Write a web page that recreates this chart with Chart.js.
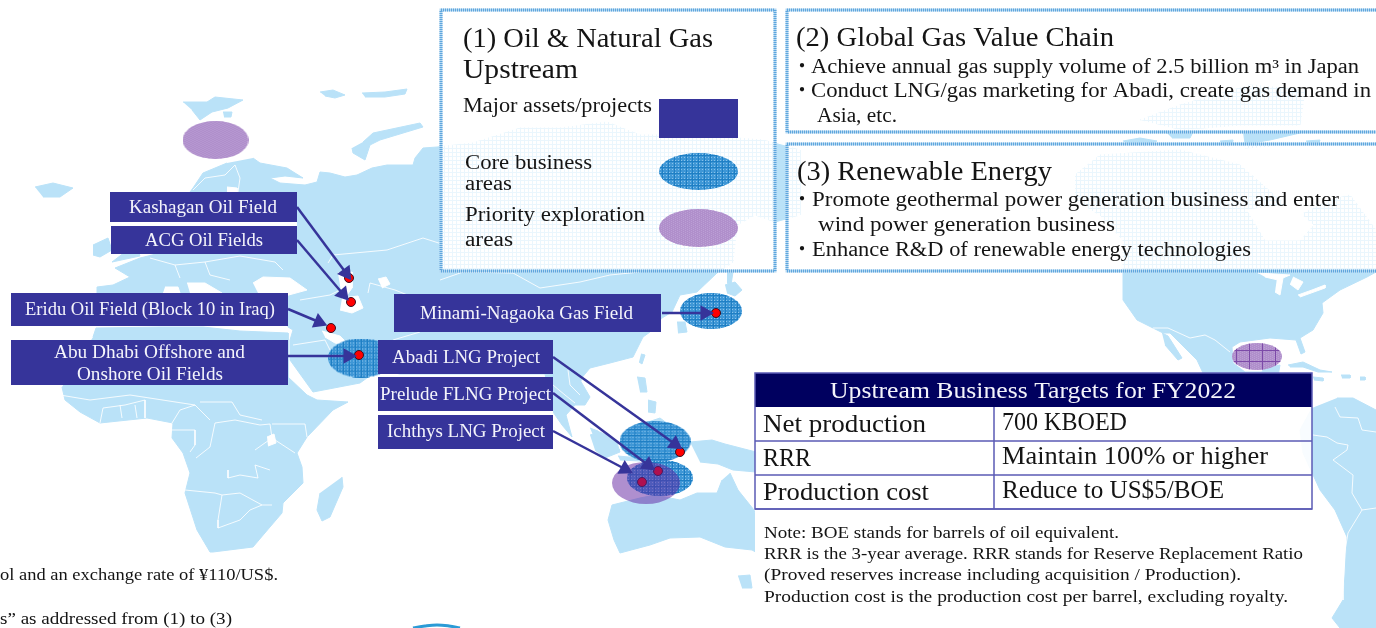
<!DOCTYPE html>
<html>
<head>
<meta charset="utf-8">
<title>Upstream business map</title>
<script src="https://cdn.jsdelivr.net/npm/chart.js@4"></script>
<style>
    html, body { margin: 0; padding: 0; background: #fff; overflow: hidden; }
    canvas { display: block; }
</style>
</head>
<body>
<canvas id="mapChart" width="1376" height="628"></canvas>
<script>
// project locations
const projectDots = [[349, 278], [351, 302], [331, 328], [359, 355], [716, 313], [680, 452], [658, 471], [642, 482]];
const coreAreas = [[361, 358], [711, 311], [655, 441.5], [660, 478]];
const priorityAreas = [[215.5, 140]];
const priorityOverlapArea = [[646, 483]];
const priorityGridArea = [[1257, 356.5]];
const legendCoreArea = [[698.5, 171.5]];
const legendPriorityArea = [[698.5, 228]];
const bottomArc = [[413, 628], [425, 626], [437, 625], [449, 626], [460, 628]];

// arrows: from the label to the project
const arrowLines = [
    [[297, 207], [346, 273]],
    [[297, 240], [343, 294]],
    [[288, 309], [319, 322]],
    [[288, 356], [348, 356]],
    [[662, 313], [705, 313]],
    [[553, 357], [675, 444]],
    [[553, 393], [648, 465]],
    [[553, 431], [625, 469]]
];

// land
const eurasia = [[253, 158], [260, 163], [287, 168], [303, 178], [285, 176], [270, 178], [280, 183], [305, 185], [317, 182], [320, 172], [330, 173], [345, 177], [357, 175], [372, 168], [387, 165], [413, 165], [415, 158], [423, 148], [437, 147], [473, 143], [520, 128], [560, 128], [607, 122], [640, 135], [700, 135], [763, 140], [800, 150], [800, 215], [775, 222], [755, 215], [737, 225], [733, 262], [717, 273], [697, 292], [680, 295], [672, 312], [662, 318], [650, 332], [643, 337], [633, 357], [610, 363], [590, 368], [580, 380], [590, 397], [585, 405], [575, 405], [566, 415], [572, 437], [562, 425], [553, 412], [545, 374], [400, 374], [378, 370], [360, 383], [313, 392], [290, 360], [290, 340], [293, 330], [288, 327], [288, 305], [100, 305], [97, 300], [97, 287], [113, 285], [130, 277], [115, 268], [140, 258], [160, 253], [165, 235], [172, 215], [190, 192], [193, 188], [203, 173], [227, 163]];
const africa = [[93, 337], [96, 328], [160, 327], [203, 327], [240, 331], [288, 333], [288, 377], [307, 395], [317, 400], [348, 402], [333, 410], [307, 437], [297, 453], [302, 467], [303, 483], [283, 503], [282, 513], [270, 527], [253, 547], [213, 552], [210, 552], [197, 530], [185, 493], [190, 473], [183, 453], [172, 438], [173, 423], [147, 418], [100, 423], [80, 412], [65, 400], [62, 387]];
const madagascar = [[342, 477], [343, 487], [330, 517], [322, 521], [317, 510], [320, 493]];
const iceland = [[35, 187], [53, 183], [73, 188], [60, 197], [43, 197]];
const ireland = [[93, 245], [108, 238], [112, 250], [100, 257], [93, 255]];
const britain = [[111, 226], [130, 226], [140, 256], [112, 262], [125, 252]];
const svalbard = [[183, 102], [207, 102], [215, 97], [243, 100], [228, 108], [212, 112], [200, 120], [192, 110]];
const svalbardSmall = [[223, 112], [232, 112], [231, 117], [224, 117]];
const novayaZemlya = [[363, 142], [373, 133], [420, 123], [423, 127], [380, 140], [370, 145], [365, 160], [353, 153], [352, 148]];
const franzJosefWest = [[320, 92], [333, 90], [345, 95], [335, 98], [325, 96]];
const franzJosefEast = [[362, 93], [385, 92], [407, 89], [405, 94], [385, 97], [365, 97]];
const australia = [[730, 473], [738, 490], [754, 510], [770, 560], [752, 550], [725, 547], [700, 537], [670, 538], [650, 545], [620, 553], [614, 540], [608, 520], [612, 505], [640, 498], [655, 495], [680, 500], [697, 493], [717, 493], [722, 480]];
const tasmania = [[738, 576], [750, 575], [752, 588], [742, 588]];
const newGuinea = [[690, 442], [712, 440], [725, 444], [756, 452], [756, 472], [733, 470], [718, 464], [700, 462]];
const borneo = [[590, 435], [600, 432], [616, 440], [620, 452], [605, 458], [595, 450]];
const sumatra = [[590, 428], [598, 431], [620, 450], [612, 452], [596, 442]];
const java = [[618, 456], [640, 458], [640, 461], [620, 460]];
const sulawesi = [[648, 422], [660, 418], [668, 424], [655, 428]];
const luzon = [[637, 377], [645, 378], [647, 392], [640, 392]];
const mindanao = [[648, 400], [656, 402], [655, 413], [648, 412]];
const taiwan = [[641, 354], [645, 355], [642, 364], [639, 362]];
const hainan = [[576, 376], [582, 376], [581, 381], [576, 381]];
const hokkaido = [[725, 285], [735, 282], [742, 290], [735, 296], [727, 293]];
const sakhalin = [[727, 270], [733, 272], [731, 285], [727, 283]];
const kyushu = [[677, 322], [685, 322], [687, 332], [678, 333]];
const northAmerica = [[1075, 175], [1100, 155], [1180, 150], [1240, 165], [1280, 200], [1300, 215], [1330, 200], [1350, 195], [1376, 230], [1376, 272], [1367, 277], [1340, 290], [1322, 303], [1323, 313], [1313, 330], [1300, 338], [1305, 352], [1301, 354], [1296, 340], [1270, 338], [1240, 342], [1232, 347], [1233, 363], [1245, 372], [1262, 372], [1264, 368], [1280, 365], [1278, 376], [1260, 392], [1240, 380], [1203, 373], [1197, 360], [1170, 333], [1163, 333], [1153, 328], [1137, 320], [1123, 300], [1123, 240], [1100, 215], [1075, 200]];
const baja = [[1162, 333], [1168, 336], [1182, 358], [1178, 360], [1165, 345]];
const arcticIsles = [[1140, 120], [1180, 105], [1250, 85], [1305, 90], [1300, 125], [1240, 125], [1180, 130]];
const islandA = [[1123, 141], [1140, 138], [1157, 141], [1145, 146], [1128, 145]];
const islandB = [[1167, 133], [1193, 132], [1190, 138], [1172, 138]];
const islandC = [[1220, 141], [1233, 140], [1232, 146], [1222, 146]];
const islandD = [[1243, 132], [1300, 133], [1270, 140], [1240, 145], [1270, 146], [1245, 148]];
const islandE = [[1306, 141], [1320, 140], [1318, 146], [1308, 145]];
const cuba = [[1288, 365], [1303, 362], [1320, 370], [1332, 372], [1318, 372], [1303, 367], [1290, 367]];
const hispaniola = [[1313, 377], [1323, 378], [1323, 381], [1314, 380]];
const jamaica = [[1341, 375], [1350, 375], [1350, 378], [1342, 378]];
const puertoRico = [[1360, 377], [1365, 377], [1365, 380], [1360, 380]];
const southAmerica = [[1312, 408], [1300, 430], [1303, 453], [1320, 490], [1335, 510], [1347, 537], [1345, 575], [1343, 600], [1332, 618], [1340, 628], [1376, 628], [1376, 410], [1353, 398], [1337, 398]];
const landShapes = [eurasia, africa, madagascar, iceland, ireland, britain, svalbard, svalbardSmall, novayaZemlya, franzJosefWest, franzJosefEast, australia, tasmania, newGuinea, borneo, sumatra, java, sulawesi, luzon, mindanao, taiwan, hainan, hokkaido, sakhalin, kyushu, northAmerica, baja, arcticIsles, islandA, islandB, islandC, islandD, islandE, cuba, hispaniola, jamaica, puertoRico, southAmerica];

// seas and lakes cut out of the land
const blackSea = [[253, 283], [263, 277], [290, 278], [307, 290], [285, 296], [258, 293]];
const adriatic = [[187, 283], [205, 283], [222, 293], [190, 293]];
const gulfOfLion = [[165, 287], [178, 287], [180, 293], [163, 293]];
const baltic = [[227, 187], [237, 188], [237, 192], [227, 192]];
const caspianNorth = [[338, 273], [352, 272], [352, 288], [345, 298], [342, 298]];
const caspianSouth = [[342, 298], [358, 296], [363, 308], [352, 313], [340, 310]];
const aral = [[378, 279], [386, 277], [390, 284], [382, 288]];
const persianGulf = [[322, 331], [340, 336], [350, 346], [335, 343], [325, 337]];
const victoria = [[267, 437], [274, 434], [276, 443], [268, 446]];
const hudsonBay = [[1247, 210], [1290, 205], [1313, 225], [1300, 240], [1265, 240]];
const superior = [[1258, 273], [1290, 275], [1278, 280], [1265, 277]];
const michigan = [[1277, 278], [1283, 278], [1280, 295], [1275, 292]];
const huron = [[1293, 277], [1303, 282], [1298, 290], [1290, 284]];
const erie = [[1298, 295], [1312, 290], [1325, 285], [1325, 288], [1300, 297]];
const waterShapes = [blackSea, adriatic, gulfOfLion, baltic, caspianNorth, caspianSouth, aral, persianGulf, victoria, hudsonBay, superior, michigan, huron, erie];

// country borders
const borderLines = [
    [[185, 490], [215, 493], [222, 495], [240, 493], [262, 505], [272, 505]],
    [[222, 495], [218, 520], [218, 528], [240, 520], [250, 510], [262, 505]],
    [[228, 470], [228, 478], [240, 475], [258, 478], [255, 465], [270, 470]],
    [[255, 450], [262, 445], [272, 438], [295, 453]],
    [[196, 458], [210, 447], [215, 423], [235, 420], [260, 425], [270, 424], [272, 438]],
    [[172, 430], [195, 430], [195, 445], [190, 452]],
    [[272, 424], [305, 424], [307, 437]],
    [[172, 423], [180, 410], [195, 405], [210, 420]],
    [[200, 402], [232, 402], [240, 415], [262, 420]],
    [[100, 423], [103, 408], [125, 405], [145, 400], [145, 418]],
    [[120, 405], [122, 418]],
    [[135, 405], [137, 418]],
    [[60, 395], [90, 400], [130, 395], [195, 405]],
    [[193, 190], [205, 178], [225, 175], [235, 165]],
    [[235, 165], [240, 178], [238, 192]],
    [[150, 258], [175, 265], [205, 262], [240, 256], [275, 262], [283, 270]],
    [[175, 265], [180, 278]],
    [[205, 262], [210, 275], [230, 280]],
    [[328, 263], [333, 255], [387, 250], [423, 238], [445, 245]],
    [[368, 293], [370, 283], [395, 290], [420, 300]],
    [[300, 300], [330, 295], [340, 290]],
    [[440, 280], [463, 272], [513, 273], [540, 288], [580, 282], [610, 275], [640, 272]],
    [[393, 340], [420, 332]],
    [[568, 370], [570, 385], [580, 395]],
    [[553, 385], [565, 395], [575, 403]],
    [[293, 345], [325, 340], [330, 350]],
    [[1153, 328], [1168, 328], [1190, 338], [1205, 335], [1215, 340], [1230, 352]],
    [[1335, 407], [1340, 417], [1358, 418], [1362, 430], [1376, 432]],
    [[1313, 435], [1327, 437], [1337, 443], [1348, 445], [1347, 450], [1333, 460], [1353, 475], [1352, 493], [1362, 510], [1376, 508]],
    [[1362, 510], [1348, 533], [1343, 563], [1343, 600]]
];

// texts: string, left edge, baseline, font size, right edge
const panelTexts = [
    ['(1) Oil & Natural Gas', 463, 47, 27, 713],
    ['Upstream', 463, 78, 27, 578],
    ['Major assets/projects', 463, 112, 20, 652],
    ['Core business', 465, 169, 20, 592],
    ['areas', 465, 190, 20, 512],
    ['Priority exploration', 465, 221, 20, 645],
    ['areas', 465, 246, 20, 513],
    ['(2) Global Gas Value Chain', 796, 46, 27, 1114],
    ['Achieve annual gas supply volume of 2.5 billion m³ in Japan', 811, 73, 20, 1359],
    ['Conduct LNG/gas marketing for Abadi, create gas demand in', 811, 97, 20, 1371],
    ['Asia, etc.', 817, 122, 20, 897],
    ['(3) Renewable Energy', 797, 180, 27, 1052],
    ['Promote geothermal power generation business and enter', 812, 206, 20, 1339],
    ['wind power generation business', 818, 231, 20, 1115],
    ['Enhance R&D of renewable energy technologies', 812, 256, 20, 1251],
    ['Net production', 763, 432, 25, 926],
    ['RRR', 763, 466, 25, 811],
    ['Production cost', 763, 500, 25, 929],
    ['700 KBOED', 1002, 430, 25, 1127],
    ['Maintain 100% or higher', 1002, 464, 25, 1268],
    ['Reduce to US$5/BOE', 1002, 498, 25, 1224],
    ['Note: BOE stands for barrels of oil equivalent.', 764, 538, 16.5, 1119],
    ['RRR is the 3-year average. RRR stands for Reserve Replacement Ratio', 764, 559, 16.5, 1303],
    ['(Proved reserves increase including acquisition / Production).', 764, 580, 16.5, 1241],
    ['Production cost is the production cost per barrel, excluding royalty.', 764, 602, 16.5, 1288],
    ['ol and an exchange rate of ¥110/US$.', 0, 580, 16.5, 278],
    ['s” as addressed from (1) to (3)', 0, 624, 16.5, 232]
];
const labelTexts = [
    ['Kashagan Oil Field', 129, 213, 18, 277],
    ['ACG Oil Fields', 145, 246, 18, 263],
    ['Eridu Oil Field (Block 10 in Iraq)', 25, 315, 18, 275],
    ['Abu Dhabi Offshore and', 54, 358, 18, 245],
    ['Onshore Oil Fields', 77, 380, 18, 223],
    ['Minami-Nagaoka Gas Field', 420, 319, 18, 633],
    ['Abadi LNG Project', 392, 363, 18, 540],
    ['Prelude FLNG Project', 380, 400, 18, 551],
    ['Ichthys LNG Project', 387, 437, 18, 545],
    ['Upstream Business Targets for FY2022', 830, 398, 23, 1236]
];
const bulletMarks = [[792, 73], [792, 97], [792, 206], [792, 256]];

// layout of the flat boxes: x, y, width, height
const labelBoxes = [[110, 192, 187, 30], [111, 226, 186, 28], [11, 293, 277, 33], [11, 340, 277, 45], [394, 294, 267, 38], [378, 340, 175, 34], [378, 377, 175, 34], [378, 415, 175, 34], [659, 99, 79, 39]];
const whiteGaps = [[110, 222, 187, 4], [378, 411, 175, 4]];
const panelBoxes = [[441, 10, 334, 261], [787, 10, 600, 122], [787, 144, 600, 127]];
const noteBox = [755, 510, 557, 98];
const tableBox = { left: 755, top: 373, right: 1312, headBottom: 407, rowLines: [441, 475, 509], split: 994 };

const landColor = '#bae2f8';
const boxColor = '#36349a';

const toXY = pts => pts.map(p => ({ x: p[0], y: p[1] }));

function makeCanvas(w, h) {
    const c = document.createElement('canvas');
    c.width = w;
    c.height = h;
    return c;
}

// hatched ellipse used as a point image
function makeEllipse(rx, ry, kind) {
    const c = makeCanvas(Math.ceil(rx * 2), Math.ceil(ry * 2));
    const g = c.getContext('2d');
    g.beginPath();
    g.ellipse(c.width / 2, c.height / 2, rx, ry, 0, 0, Math.PI * 2);
    g.clip();
    if (kind === 'core') {
        g.fillStyle = '#3f97d6';
        g.fillRect(0, 0, c.width, c.height);
        g.fillStyle = '#88c2ea';
        for (let x = 1; x < c.width; x += 3) {
            for (let y = 1; y < c.height; y += 3) {
                g.fillRect(x, y, 1, 1);
            }
        }
        g.fillStyle = '#1f7fc4';
        for (let y = 2; y < c.height; y += 6) g.fillRect(0, y, c.width, 1);
        for (let x = 3; x < c.width; x += 6) g.fillRect(x, 0, 1, c.height);
    } else if (kind === 'veil') {
        // see-through purple, darkens what lies under it
        g.fillStyle = 'rgba(96,32,160,0.5)';
        g.fillRect(0, 0, c.width, c.height);
    } else {
        g.fillStyle = '#b08fcb';
        g.fillRect(0, 0, c.width, c.height);
        g.fillStyle = '#bb9fd5';
        for (let x = 0; x < c.width; x += 2) {
            for (let y = x % 4 === 0 ? 0 : 1; y < c.height; y += 2) {
                g.fillRect(x, y, 1, 1);
            }
        }
        if (kind === 'grid') {
            g.fillStyle = '#7c4aa8';
            for (let y = 7; y < c.height; y += 11) g.fillRect(0, y, c.width, 1);
            for (let x = 4; x < c.width; x += 13) g.fillRect(x, 0, 1, c.height);
        }
    }
    return c;
}

// see-through mesh of the text panels
function panelPattern(ctx) {
    const c = makeCanvas(4, 4);
    const g = c.getContext('2d');
    g.fillStyle = 'rgba(255,255,255,0.7)';
    g.fillRect(0, 0, 4, 4);
    g.fillStyle = '#fff';
    g.fillRect(1, 1, 3, 3);
    return ctx.createPattern(c, 'repeat');
}

function drawFitted(ctx, t, color) {
    ctx.save();
    ctx.font = t[3] + 'px "Liberation Serif"';
    ctx.textBaseline = 'alphabetic';
    ctx.textAlign = 'left';
    ctx.fillStyle = color;
    const w = ctx.measureText(t[0]).width;
    ctx.translate(t[1], t[2]);
    ctx.scale((t[4] - t[1]) / w, 1);
    ctx.fillText(t[0], 0, 0);
    ctx.restore();
}

const layerPlugin = {
    id: 'layerPlugin',
    beforeDatasetDraw(chart, args) {
        const ctx = chart.ctx;
        const label = chart.data.datasets[args.index].label;
        if (label === 'panelLayer') {
            ctx.save();
            ctx.fillStyle = panelPattern(ctx);
            panelBoxes.forEach(b => {
                ctx.fillRect(b[0], b[1], b[2], b[3]);
                ctx.lineWidth = 3;
                ctx.strokeStyle = '#b5d8f2';
                ctx.strokeRect(b[0], b[1], b[2], b[3]);
                ctx.strokeStyle = '#5ea6dd';
                ctx.setLineDash([1, 1]);
                ctx.strokeRect(b[0], b[1], b[2], b[3]);
                ctx.setLineDash([]);
            });
            ctx.restore();
        }
        if (label === 'boxLayer') {
            ctx.save();
            ctx.fillStyle = '#fff';
            whiteGaps.forEach(b => ctx.fillRect(b[0], b[1], b[2], b[3]));
            ctx.fillStyle = boxColor;
            labelBoxes.forEach(b => ctx.fillRect(b[0], b[1], b[2], b[3]));
            ctx.restore();
        }
    },
    afterDatasetsDraw(chart) {
        const ctx = chart.ctx;
        const t = tableBox;
        ctx.save();
        ctx.fillStyle = 'rgba(255,255,255,0.9)';
        ctx.fillRect(t.left, t.headBottom, t.right - t.left, t.rowLines[2] - t.headBottom);
        ctx.fillStyle = '#fff';
        ctx.fillRect(noteBox[0], noteBox[1], noteBox[2], noteBox[3]);
        ctx.fillStyle = '#00005f';
        ctx.fillRect(t.left, t.top, t.right - t.left, t.headBottom - t.top);
        ctx.strokeStyle = '#5b5bb5';
        ctx.lineWidth = 1.5;
        ctx.strokeRect(t.left, t.top, t.right - t.left, t.rowLines[2] - t.top);
        ctx.beginPath();
        t.rowLines.forEach(y => {
            ctx.moveTo(t.left, y);
            ctx.lineTo(t.right, y);
        });
        ctx.moveTo(t.split, t.headBottom);
        ctx.lineTo(t.split, t.rowLines[2]);
        ctx.stroke();
        ctx.restore();

        panelTexts.forEach(x => drawFitted(ctx, x, '#141414'));
        labelTexts.forEach(x => drawFitted(ctx, x, '#f4f4fb'));
        ctx.save();
        ctx.font = '20px "Noto Sans CJK JP"';
        ctx.fillStyle = '#141414';
        bulletMarks.forEach(b => ctx.fillText('・', b[0], b[1]));
        ctx.restore();
    }
};

// listed bottom layer first, reversed below because Chart.js paints the first dataset last
const layers = [];
landShapes.forEach(s => layers.push({ label: 'land', data: toXY(s), showLine: true, fill: 'shape', backgroundColor: landColor, borderColor: landColor, borderWidth: 1, pointRadius: 0 }));
waterShapes.forEach(s => layers.push({ label: 'water', data: toXY(s), showLine: true, fill: 'shape', backgroundColor: '#fff', borderColor: '#fff', borderWidth: 1, pointRadius: 0 }));
borderLines.forEach(s => layers.push({ label: 'border', data: toXY(s), showLine: true, fill: false, borderColor: 'rgba(255,255,255,0.85)', borderWidth: 1, pointRadius: 0 }));
layers.push({ label: 'arc', data: toXY(bottomArc), showLine: true, fill: false, tension: 0.4, borderColor: '#2b9bd6', borderWidth: 3, pointRadius: 0 });
layers.push({ label: 'panelLayer', data: [] });
layers.push({ label: 'Core business areas', data: toXY(coreAreas), pointRadius: 10, pointStyle: [makeEllipse(33, 19.5, 'core'), makeEllipse(31, 18, 'core'), makeEllipse(35.5, 20.5, 'core'), makeEllipse(33, 18, 'core')] });
layers.push({ label: 'Legend core', data: toXY(legendCoreArea), pointRadius: 10, pointStyle: makeEllipse(39.5, 18.5, 'core') });
layers.push({ label: 'Legend priority', data: toXY(legendPriorityArea), pointRadius: 10, pointStyle: makeEllipse(39.5, 19, 'plain') });
layers.push({ label: 'Projects', data: toXY(projectDots), pointRadius: 4.5, pointStyle: 'circle', backgroundColor: '#ff0000', borderColor: '#3a1020', borderWidth: 1 });
layers.push({ label: 'Priority exploration areas', data: toXY(priorityAreas), pointRadius: 10, pointStyle: makeEllipse(33, 19, 'plain') });
layers.push({ label: 'Priority overlap area', data: toXY(priorityOverlapArea), pointRadius: 10, pointStyle: makeEllipse(34, 21, 'veil') });
layers.push({ label: 'Priority grid area', data: toXY(priorityGridArea), pointRadius: 10, pointStyle: makeEllipse(25, 13.5, 'grid') });
layers.push({ label: 'boxLayer', data: [] });
arrowLines.forEach(a => {
    const angle = Math.atan2(a[1][1] - a[0][1], a[1][0] - a[0][0]) * 180 / Math.PI + 90;
    layers.push({
        label: 'arrow',
        data: toXY(a),
        showLine: true,
        fill: false,
        borderColor: boxColor,
        borderWidth: 2.5,
        backgroundColor: boxColor,
        pointBorderWidth: 0,
        pointStyle: 'triangle',
        pointRadius: [0, 9],
        rotation: [0, angle]
    });
});

new Chart(document.querySelector('#mapChart'), {
    type: 'scatter',
    data: { datasets: layers.reverse() },
    options: {
        responsive: false,
        animation: false,
        events: [],
        layout: { padding: 0, autoPadding: false },
        plugins: { legend: { display: false }, tooltip: { enabled: false } },
        scales: {
            x: { type: 'linear', min: 0, max: 1376, display: false },
            y: { type: 'linear', min: 0, max: 628, reverse: true, display: false }
        }
    },
    plugins: [layerPlugin]
});
</script>
</body>
</html>
